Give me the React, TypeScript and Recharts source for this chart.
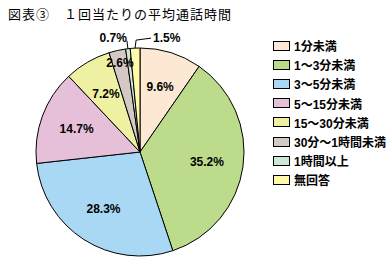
import { PieChart, Pie, Cell, Legend } from "recharts"

const TITLE = "図表③　１回当たりの平均通話時間"

const CATEGORIES = [
  "1分未満",
  "1～3分未満",
  "3～5分未満",
  "5～15分未満",
  "15～30分未満",
  "30分～1時間未満",
  "1時間以上",
  "無回答",
]

const SHARES = [9.6, 35.2, 28.3, 14.7, 7.2, 2.6, 0.7, 1.5]

const COLORS = [
  "#fde9d3", // peach
  "#bcdc8c", // green
  "#a9d8f5", // blue
  "#e5c0d8", // pink
  "#eef0a2", // pale yellow
  "#d4c9c6", // greyish
  "#cde9d6", // mint
  "#fff9a8", // yellow
]

const data = CATEGORIES.map((name, i) => ({ name, value: SHARES[i] }))

const RAD = Math.PI / 180
const LABEL_FONT = "'Liberation Sans', Arial, sans-serif"

function renderLabel(props: any) {
  const { cx, cy, midAngle, outerRadius, value, index } = props
  const cos = Math.cos(-midAngle * RAD)
  const sin = Math.sin(-midAngle * RAD)
  const txt = `${Number(value).toFixed(1)}%`

  // tiny slices get a leader line and sit outside the pie
  if (value < 2) {
    const x0 = cx + outerRadius * cos
    const y0 = cy + outerRadius * sin
    const toRight = index === SHARES.length - 1
    if (toRight) {
      const x1 = x0 + 1
      const y1 = y0 - 8
      const x2 = x1 + 15
      const y2 = y1 - 2
      return (
        <g key={`lbl-${index}`}>
          <polyline points={`${x0},${y0} ${x1},${y1} ${x2},${y2}`} fill="none" stroke="#000" strokeWidth={1} />
          <text x={x2 + 2} y={y2 + 4} textAnchor="start" fontFamily={LABEL_FONT} fontWeight="bold" fontSize={12} fill="#000">
            {txt}
          </text>
        </g>
      )
    }
    const x1 = x0 - 1
    const y1 = y0 - 8
    return (
      <g key={`lbl-${index}`}>
        <line x1={x0} y1={y0} x2={x1} y2={y1} stroke="#000" strokeWidth={1} />
        <text x={x1} y={y1 + 1} textAnchor="end" fontFamily={LABEL_FONT} fontWeight="bold" fontSize={12} fill="#000">
          {txt}
        </text>
      </g>
    )
  }

  const r = outerRadius * (value < 5 ? 0.88 : 0.65)
  return (
    <text
      key={`lbl-${index}`}
      x={cx + r * cos}
      y={cy + r * sin}
      textAnchor="middle"
      dominantBaseline="central"
      fontFamily={LABEL_FONT}
      fontWeight="bold"
      fontSize={12}
      fill="#000"
    >
      {txt}
    </text>
  )
}

function LegendBox() {
  return (
    <div>
      {CATEGORIES.map((c, i) => (
        <div
          key={c}
          style={{ display: "flex", alignItems: "center", height: 19.2 }}
        >
          <span
            style={{
              display: "inline-block",
              width: 15,
              height: 8,
              border: "1px solid #000",
              background: COLORS[i],
              marginRight: 4,
            }}
          />
          <span
            style={{
              fontFamily: "'Liberation Sans', 'Noto Sans CJK JP', sans-serif",
              fontWeight: "bold",
              fontSize: 12,
              color: "#000",
              whiteSpace: "nowrap",
            }}
          >
            {c}
          </span>
        </div>
      ))}
    </div>
  )
}

export default function App() {
  return (
    <div
      style={{
        position: "absolute",
        left: 0,
        top: 0,
        width: 392,
        height: 266,
        background: "#fff",
        overflow: "hidden",
      }}
    >
      <div
        style={{
          position: "absolute",
          left: 8,
          top: 7,
          fontFamily: "'Noto Sans CJK JP', sans-serif",
          fontSize: 13,
          lineHeight: "14px",
          letterSpacing: 1,
          color: "#000",
          whiteSpace: "nowrap",
          zIndex: 2,
        }}
      >
        {TITLE}
      </div>
      <PieChart width={392} height={266} margin={{ top: 0, right: 0, bottom: 0, left: 0 }}>
        <Pie
          data={data}
          dataKey="value"
          nameKey="name"
          cx={140}
          cy={152}
          outerRadius={104}
          startAngle={90}
          endAngle={-270}
          stroke="#000"
          strokeWidth={1}
          label={renderLabel}
          labelLine={false}
          isAnimationActive={false}
        >
          {data.map((d, i) => (
            <Cell key={d.name} fill={COLORS[i]} />
          ))}
        </Pie>
        <Legend
          layout="vertical"
          content={() => <LegendBox />}
          wrapperStyle={{ position: "absolute", left: 273, top: 36, width: 119 }}
        />
      </PieChart>
    </div>
  )
}
